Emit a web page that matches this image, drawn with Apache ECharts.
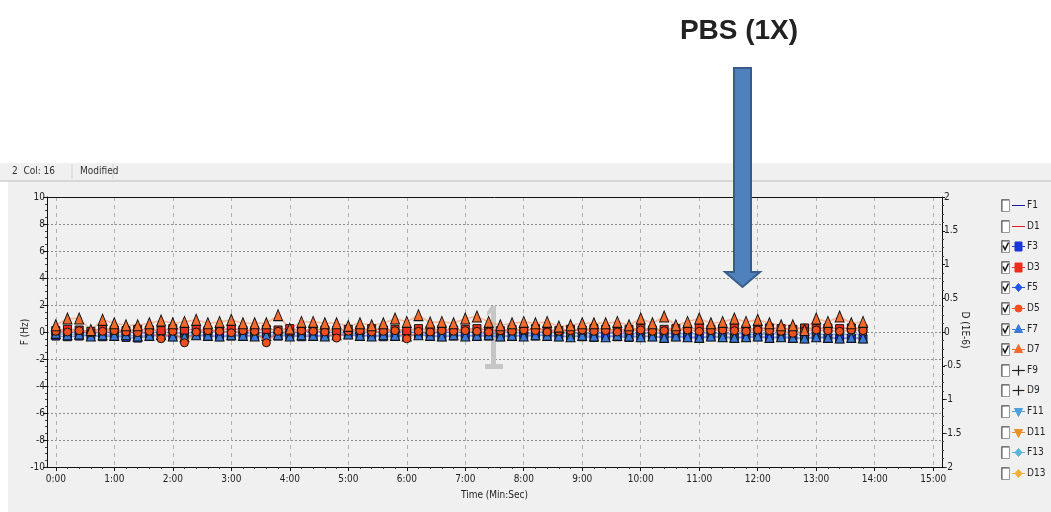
<!DOCTYPE html>
<html>
<head>
<meta charset="utf-8">
<script src="https://cdn.jsdelivr.net/npm/echarts@6/dist/echarts.min.js"></script>
<style>
  html, body { margin: 0; padding: 0; background: #fff; }
  #chart { width: 1051px; height: 512px; }
</style>
</head>
<body>
<div id="chart"></div>
<script>
// sample every 12 s, from 0:00 to 13:48
const stepSec = 12;

// frequency shifts (Hz), left axis
const f3 = [-0.3,-0.35,-0.3,-0.25,-0.35,-0.3,-0.4,-0.45,-0.3,-0.25,-0.35,-0.3,-0.25,-0.3,-0.35,-0.3,-0.25,-0.3,
  -0.35,-0.3,-0.25,-0.35,-0.3,-0.3,-0.25,-0.2,-0.3,-0.25,-0.35,-0.3,-0.25,-0.2,-0.3,-0.35,-0.3,
  -0.25,-0.3,-0.3,-0.35,-0.3,-0.25,-0.3,-0.2,-0.35,-0.3,-0.35,-0.4,-0.3,-0.35,-0.4,-0.3,-0.35,-0.4,
  -0.35,-0.4,-0.45,-0.35,-0.4,-0.45,-0.4,-0.35,-0.45,-0.4,-0.45,-0.5,-0.4,-0.45,-0.5,-0.45,-0.5];
const f5 = [0.05,-0.05,0,-0.1,0,-0.05,0.05,-0.1,-0.05,0,-0.05,-0.1,0,-0.05,0.05,0,-0.05,-0.1,
  0,-0.05,-0.1,0,0.05,-0.05,0,-0.05,-0.1,0,-0.05,0.05,0,-0.05,-0.1,0,-0.05,
  0,-0.05,-0.1,-0.05,0,-0.1,-0.05,0,-0.1,-0.05,-0.15,-0.1,-0.05,-0.1,-0.15,-0.1,-0.05,-0.1,
  -0.1,-0.15,-0.1,-0.05,-0.15,-0.1,-0.15,-0.2,-0.1,-0.15,-0.2,-0.1,-0.15,-0.2,-0.15,-0.2,-0.15];
const f7 = [-0.1,-0.2,-0.15,-0.3,-0.2,-0.25,-0.2,-0.3,-0.25,-0.2,-0.3,-0.35,-0.2,-0.25,-0.3,-0.2,-0.25,-0.3,
  -0.25,-0.2,-0.3,-0.2,-0.25,-0.3,-0.2,-0.15,-0.25,-0.3,-0.2,-0.25,-0.3,-0.2,-0.25,-0.3,-0.2,
  -0.3,-0.25,-0.2,-0.3,-0.25,-0.3,-0.2,-0.25,-0.3,-0.35,-0.25,-0.3,-0.35,-0.25,-0.3,-0.35,-0.3,-0.4,
  -0.3,-0.35,-0.4,-0.3,-0.35,-0.4,-0.35,-0.3,-0.4,-0.35,-0.4,-0.45,-0.35,-0.4,-0.45,-0.4,-0.45];

// dissipation shifts (1E-6), right axis
const d3 = [0.02,0.04,0.03,0.01,0.05,0.03,0.02,0.04,0.03,0.02,0.05,0.03,0.04,0.02,0.03,0.05,0.03,0.02,
  0.04,0.03,0.05,0.02,0.04,0.03,0.02,0.04,0.03,0.05,0.03,0.04,0.02,0.05,0.03,0.04,0.03,
  0.04,0.05,0.03,0.02,0.04,0.03,0.05,0.03,0.02,0.04,0.03,0.05,0.04,0.03,0.04,0.05,0.03,0.04,
  0.05,0.04,0.06,0.04,0.05,0.06,0.04,0.05,0.06,0.05,0.04,0.06,0.05,0.06,0.05,0.06,0.05];
const d5 = [0.01,0,0.02,-0.01,0.01,0.02,0,-0.01,0.01,-0.1,0.01,-0.16,0,0.02,0.01,-0.01,0.02,0.01,
  -0.16,0.01,0,0.02,0.01,0,-0.09,0.01,0.02,0,0.01,0.02,-0.1,0.01,0,0.02,0.01,
  0.02,0.01,0,0.02,0.01,0.03,0.02,0,0.01,0.02,0.03,0.01,0.02,0,0.02,0.03,0.01,0.02,
  0.02,0.03,0.01,0.02,0.03,0.02,0.01,0.03,0.02,0.01,-0.02,0.02,0.03,0.02,0.01,0.03,0.02];
const d7 = [0.1,0.2,0.2,0.03,0.18,0.13,0.1,0.1,0.13,0.17,0.13,0.15,0.18,0.13,0.15,0.18,0.13,0.13,
  0.13,0.25,0.05,0.15,0.15,0.13,0.13,0.09,0.13,0.1,0.13,0.2,0.15,0.25,0.14,0.15,0.13,
  0.2,0.23,0.15,0.1,0.13,0.15,0.13,0.15,0.08,0.1,0.13,0.13,0.13,0.15,0.1,0.2,0.13,0.23,
  0.1,0.15,0.2,0.13,0.15,0.2,0.15,0.18,0.13,0.1,0.1,0.03,0.2,0.15,0.23,0.13,0.15];

const timeTicks = [0,60,120,180,240,300,360,420,480,540,600,660,720,780,840,900];
const minorTimeTicks = [];
for (let t = 12; t < 909; t += 12) if (t % 60 !== 0) minorTimeTicks.push(t);
const legendNames = ['F1','D1','F3','D3','F5','D5','F7','D7','F9','D9','F11','D11','F13','D13'];
const checkedNames = ['F3','D3','F5','D5','F7','D7'];

const plusPath = 'path://M4,0H6V4H10V6H6V10H4V6H0V4H4Z';
const downTri = 'path://M0,0L10,0L5,9Z';

const seriesLook = {
  F1:  { color: '#1a1ab0', symbol: 'none', data: [] },
  D1:  { color: '#e02020', symbol: 'none', data: [] },
  F3:  { color: '#1c36d8', line: '#3a5cf0', symbol: 'rect', size: 8, data: f3 },
  D3:  { color: '#ee2e1c', line: '#f04a30', symbol: 'rect', size: 8, data: d3, right: true },
  F5:  { color: '#2256e0', line: '#3c6ef0', symbol: 'diamond', size: 8, data: f5 },
  D5:  { color: '#f0501e', line: '#f46a3c', symbol: 'circle', size: 8, data: d5, right: true },
  F7:  { color: '#3a7ad8', line: '#5a90ec', symbol: 'triangle', size: [9, 10], data: f7 },
  D7:  { color: '#f26b2c', line: '#ff9466', symbol: 'triangle', size: [9, 11], data: d7, right: true },
  F9:  { color: '#34344c', symbol: plusPath, data: [] },
  D9:  { color: '#e08a50', symbol: plusPath, data: [] },
  F11: { color: '#4f9fd8', symbol: downTri, data: [] },
  D11: { color: '#e8902c', symbol: downTri, data: [] },
  F13: { color: '#5ab4d8', symbol: 'diamond', data: [] },
  D13: { color: '#f0b040', symbol: 'diamond', data: [] }
};

function mmss(v) {
  const m = Math.floor(v / 60);
  const s = Math.round(v % 60);
  return m + ':' + (s < 10 ? '0' + s : s);
}

const labelFont = '"Liberation Sans Narrow", "DejaVu Sans Condensed", "Arial Narrow", sans-serif';

const series = legendNames.map(name => {
  const look = seriesLook[name];
  const isD = !!look.right;
  return {
    name: name,
    type: 'line',
    yAxisIndex: isD ? 1 : 0,
    data: look.data.map((v, i) => [i * stepSec, v]),
    symbol: look.symbol,
    symbolSize: look.size || 8,
    showSymbol: look.symbol !== 'none',
    color: look.color,
    itemStyle: { color: look.color, borderColor: '#111', borderWidth: 1 },
    lineStyle: { color: look.line || look.color, width: 1.6, opacity: 0.6 },
    z: isD ? 4 : 3,
    animation: false
  };
});

// hand-drawn legend: checkbox, line with symbol, name
const rowTop = 205, rowPitch = 20.6;
const legendItems = [];
function legendSymbol(kind, cx, cy, color) {
  const st = { fill: color, stroke: color, lineWidth: 1 };
  if (kind === 'rect') return { type: 'rect', z: 12, shape: { x: cx - 3.5, y: cy - 4.5, width: 7, height: 9 }, style: st };
  if (kind === 'circle') return { type: 'circle', z: 12, shape: { cx: cx, cy: cy, r: 3.5 }, style: st };
  if (kind === 'diamond') return { type: 'polygon', z: 12, shape: { points: [[cx, cy - 4], [cx + 3.5, cy], [cx, cy + 4], [cx - 3.5, cy]] }, style: st };
  if (kind === 'triangle') return { type: 'polygon', z: 12, shape: { points: [[cx, cy - 5], [cx + 4, cy + 3], [cx - 4, cy + 3]] }, style: st };
  if (kind === downTri) return { type: 'polygon', z: 12, shape: { points: [[cx - 4, cy - 3], [cx + 4, cy - 3], [cx, cy + 5]] }, style: st };
  if (kind === plusPath) return { type: 'polyline', z: 12, shape: { points: [[cx, cy - 5], [cx, cy + 5]] }, style: { stroke: '#222', lineWidth: 1.2, fill: null } };
  return null;
}
legendNames.forEach((name, i) => {
  const cy = Math.round(rowTop + i * rowPitch) + 0.5;
  const look = seriesLook[name];
  legendItems.push({
    type: 'rect', z: 10,
    shape: { x: 1001.5, y: cy - 6, width: 8, height: 12 },
    style: { fill: '#fff', stroke: '#9a9a9a', lineWidth: 1 }
  });
  legendItems.push({ type: 'line', z: 10, shape: { x1: 1002, y1: cy - 6, x2: 1002, y2: cy + 6 }, style: { stroke: '#555', lineWidth: 1 } });
  legendItems.push({ type: 'line', z: 10, shape: { x1: 1002, y1: cy - 5.5, x2: 1009, y2: cy - 5.5 }, style: { stroke: '#555', lineWidth: 1 } });
  if (checkedNames.includes(name)) {
    legendItems.push({
      type: 'polyline', z: 11,
      shape: { points: [[1003, cy - 1], [1005, cy + 3], [1008.5, cy - 4]] },
      style: { stroke: '#111', lineWidth: 1.5, fill: null }
    });
  }
  legendItems.push({ type: 'line', z: 11, shape: { x1: 1012, y1: cy, x2: 1025, y2: cy }, style: { stroke: look.color, lineWidth: 1 } });
  const sym = legendSymbol(look.symbol, 1018.5, cy, look.color);
  if (sym) legendItems.push(sym);
  if (look.symbol === plusPath) {
    legendItems.push({ type: 'line', z: 12, shape: { x1: 1013, y1: cy, x2: 1024, y2: cy }, style: { stroke: '#222', lineWidth: 1.2 } });
  }
  legendItems.push({
    type: 'text', z: 12, x: 1027, y: cy,
    style: { text: name, fontSize: 10, fill: '#222', fontFamily: labelFont, verticalAlign: 'middle' }
  });
});

const axisFont = { fontSize: 10, color: '#222' };

const chart = echarts.init(document.getElementById('chart'));
const option = {
  backgroundColor: '#ffffff',
  animation: false,
  textStyle: { fontFamily: labelFont },
  grid: { left: 47, right: 109, top: 197, bottom: 45, show: false },
  xAxis: [
    {
      type: 'value',
      min: -9,
      max: 909,
      name: 'Time (Min:Sec)',
      nameLocation: 'middle',
      nameGap: 23,
      nameTextStyle: { fontSize: 10, color: '#222', fontFamily: labelFont },
      axisLine: { onZero: false, lineStyle: { color: '#111', width: 1 } },
      axisTick: { customValues: timeTicks, length: 4, lineStyle: { color: '#111' } },
      axisLabel: Object.assign({ customValues: timeTicks, formatter: mmss, margin: 7 }, axisFont),
      splitLine: { show: true, lineStyle: { color: '#b0b0b0', type: [4, 4], width: 1 } }
    },
    {
      // minor time ticks only
      type: 'value',
      min: -9,
      max: 909,
      position: 'bottom',
      axisLine: { show: false, onZero: false },
      axisTick: { customValues: minorTimeTicks, length: 2, lineStyle: { color: '#333' } },
      axisLabel: { show: false },
      splitLine: { show: false }
    }
  ],
  yAxis: [
    {
      type: 'value',
      min: -10, max: 10, interval: 2,
      axisLine: { show: true, onZero: false, lineStyle: { color: '#111', width: 1 } },
      axisTick: { show: true, length: 4, lineStyle: { color: '#111' } },
      minorTick: { show: true, splitNumber: 4, length: 2, lineStyle: { color: '#444' } },
      axisLabel: Object.assign({ margin: 2 }, axisFont),
      splitLine: { show: true, lineStyle: { color: '#8c8c8c', type: [2, 2], width: 1 } }
    },
    {
      type: 'value',
      min: -2, max: 2, interval: 0.5,
      position: 'right',
      axisLine: { show: true, onZero: false, lineStyle: { color: '#111', width: 1 } },
      axisTick: { show: true, length: 3, lineStyle: { color: '#111' } },
      minorTick: { show: true, splitNumber: 4, length: 2, lineStyle: { color: '#444' } },
      axisLabel: Object.assign({ margin: 2 }, axisFont),
      splitLine: { show: false }
    }
  ],
  graphic: [
    // window panel and status bar
    { type: 'rect', z: -10, silent: true, shape: { x: 8, y: 163, width: 1043, height: 349 }, style: { fill: '#f0f0f0' } },
    { type: 'rect', z: -9, silent: true, shape: { x: 0, y: 163, width: 1051, height: 18 }, style: { fill: '#f0f0f0' } },
    { type: 'line', z: -8, shape: { x1: 0, y1: 181, x2: 1051, y2: 181 }, style: { stroke: '#bdbdbd', lineWidth: 1 } },
    { type: 'line', z: -8, shape: { x1: 72, y1: 164, x2: 72, y2: 179 }, style: { stroke: '#d4d4d4', lineWidth: 1 } },
    { type: 'line', z: -8, shape: { x1: 113, y1: 164, x2: 113, y2: 179 }, style: { stroke: '#d4d4d4', lineWidth: 1 } },
    { type: 'text', z: -7, x: 12, y: 171, style: { text: '2  Col: 16', fontSize: 10, fill: '#333', fontFamily: labelFont, verticalAlign: 'middle' } },
    { type: 'text', z: -7, x: 80, y: 171, style: { text: 'Modified', fontSize: 10, fill: '#333', fontFamily: labelFont, verticalAlign: 'middle' } },
    // axis titles
    { type: 'text', z: 5, x: 25, y: 332, rotation: Math.PI / 2,
      style: { text: 'F (Hz)', fontSize: 10, fill: '#222', fontFamily: labelFont, align: 'center', verticalAlign: 'middle' } },
    { type: 'text', z: 5, x: 965, y: 330, rotation: -Math.PI / 2,
      style: { text: 'D (1E-6)', fontSize: 10, fill: '#222', fontFamily: labelFont, align: 'center', verticalAlign: 'middle' } },
    // top border of the plot box
    { type: 'line', z: 1, shape: { x1: 47, y1: 197.5, x2: 942, y2: 197.5 }, style: { stroke: '#111', lineWidth: 1 } },
    // grey event marker "1"
    { type: 'polygon', z: 2, silent: true,
      shape: { points: [[491, 306], [496, 306], [496, 364], [503, 364], [503, 369], [485, 369], [485, 364], [491, 364], [491, 313], [487, 316], [487, 312]] },
      style: { fill: '#c6c6c6' } },
    // title and arrow
    { type: 'text', z: 20, x: 739, y: 31,
      style: { text: 'PBS (1X)', fontSize: 28, fontWeight: 'bold', fill: '#222', fontFamily: '"Liberation Sans", Arial, sans-serif', align: 'center', verticalAlign: 'middle' } },
    { type: 'polygon', z: 20,
      shape: { points: [[734, 68], [751, 68], [751, 272], [760, 272], [742.5, 287], [725, 272], [734, 272]] },
      style: { fill: '#4f81bd', stroke: '#385d8a', lineWidth: 2 } }
  ].concat(legendItems),
  series: series
};
chart.setOption(option);
</script>
</body>
</html>
